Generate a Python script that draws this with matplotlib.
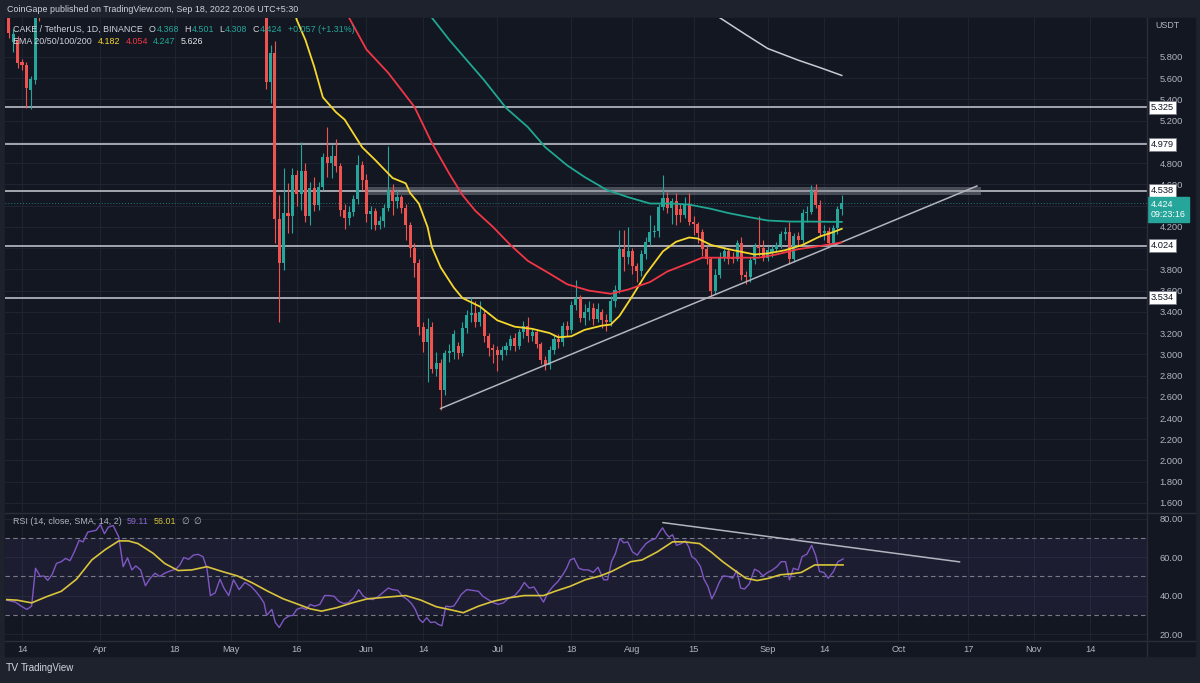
import numpy as np
import pandas as pd
import matplotlib
matplotlib.use('Agg')
import matplotlib.pyplot as plt
import matplotlib.transforms as mtransforms

plt.rcParams['font.family'] = ['Liberation Sans', 'DejaVu Sans']

BASE = pd.Timestamp('2022-03-14')

# daily candles, Mar 11 - Mar 18 (late March / April trade above the visible range)
early_start = '2022-03-11'
early_open = [6.25, 5.94, 5.96, 5.75, 5.72, 5.49, 5.58, 6.50]
early_high = [6.35, 6.06, 6.00, 5.78, 5.75, 5.62, 6.60, 6.80]
early_low = [5.98, 5.85, 5.70, 5.68, 5.32, 5.31, 5.55, 6.14]
early_close = [6.03, 6.02, 5.74, 5.72, 5.51, 5.59, 6.50, 6.25]

# daily candles, May 9 - Sep 18
main_start = '2022-05-09'
main_open = [
    6.30, 5.56, 5.84, 4.27, 3.86, 4.33, 4.30, 4.69, 4.51, 4.73, 4.30, 4.57, 4.41, 4.58, 4.86, 4.80, 4.87, 4.77, 4.36, 4.28, 4.34, 4.46, 4.78,
    4.64, 4.32, 4.35, 4.22, 4.26, 4.38, 4.55, 4.44, 4.48, 4.38, 4.22, 4.00, 3.86, 3.26, 3.12, 3.26, 2.86, 2.92, 2.66, 3.01, 3.02, 3.08, 3.01, 3.25, 3.37, 3.39, 3.30, 3.38, 3.17, 3.06,
    3.04, 2.99, 3.04, 3.08, 3.15, 3.08, 3.21, 3.27, 3.17, 3.21, 3.10, 2.95, 2.90, 3.04, 3.14, 3.12, 3.27, 3.23, 3.46, 3.53, 3.34, 3.40, 3.44, 3.33, 3.40, 3.32, 3.30, 3.50, 3.61, 3.99, 3.92,
    3.97, 3.83, 3.78, 3.94, 4.06, 4.15, 4.16, 4.39, 4.47, 4.38, 4.44, 4.37, 4.31, 4.42, 4.25, 4.23, 4.15, 3.99, 3.90, 3.60, 3.75, 3.92, 3.97, 3.92, 3.90, 4.05, 3.75, 3.73, 3.89, 4.02, 4.00,
    3.91, 3.96, 3.99, 4.03, 4.13, 4.15, 3.90, 4.11, 4.08, 4.33, 4.34, 4.54, 4.41, 4.14, 4.16, 4.05, 4.19, 4.368]
main_high = [
    6.50, 5.91, 5.95, 4.50, 4.75, 4.61, 4.75, 4.74, 5.00, 4.80, 4.62, 4.67, 4.62, 4.90, 5.14, 4.97, 5.03, 4.80, 4.42, 4.40, 4.50, 4.88, 4.82,
    4.70, 4.40, 4.38, 4.30, 4.42, 4.96, 4.60, 4.55, 4.50, 4.42, 4.25, 4.05, 3.90, 3.30, 3.34, 3.30, 3.02, 2.96, 3.04, 3.10, 3.23, 3.12, 3.30, 3.42, 3.54, 3.50, 3.50, 3.42, 3.20, 3.10,
    3.08, 3.08, 3.12, 3.18, 3.20, 3.24, 3.31, 3.35, 3.25, 3.24, 3.12, 2.98, 3.08, 3.18, 3.19, 3.30, 3.31, 3.50, 3.70, 3.56, 3.47, 3.50, 3.48, 3.48, 3.43, 3.38, 3.55, 3.65, 4.17, 4.17, 4.20,
    4.00, 3.86, 3.98, 4.10, 4.31, 4.22, 4.42, 4.69, 4.53, 4.47, 4.52, 4.42, 4.48, 4.52, 4.30, 4.25, 4.18, 4.02, 3.92, 3.80, 3.96, 4.02, 4.00, 3.96, 4.08, 4.10, 3.78, 3.92, 4.05, 4.30, 4.08,
    4.02, 4.03, 4.06, 4.16, 4.20, 4.25, 4.14, 4.15, 4.37, 4.40, 4.59, 4.60, 4.45, 4.22, 4.20, 4.22, 4.40, 4.501]
main_low = [
    5.50, 5.37, 4.05, 3.30, 3.79, 4.14, 4.14, 4.40, 4.36, 4.25, 4.22, 4.35, 4.36, 4.55, 4.67, 4.66, 4.72, 4.30, 4.18, 4.22, 4.30, 4.42, 4.55,
    4.25, 4.18, 4.17, 4.18, 4.20, 4.35, 4.31, 4.38, 4.33, 4.08, 3.92, 3.73, 3.18, 3.02, 2.74, 2.82, 2.80, 2.48, 2.62, 2.93, 2.96, 2.96, 2.98, 3.20, 3.30, 3.26, 3.27, 3.12, 2.98, 2.92,
    2.84, 2.95, 2.99, 3.04, 3.03, 3.05, 3.15, 3.12, 3.13, 3.06, 2.91, 2.85, 2.86, 3.00, 3.06, 3.08, 3.17, 3.20, 3.42, 3.30, 3.28, 3.32, 3.28, 3.30, 3.25, 3.22, 3.27, 3.45, 3.58, 3.78, 3.85,
    3.76, 3.68, 3.74, 3.90, 4.03, 4.10, 4.10, 4.36, 4.33, 4.23, 4.22, 4.25, 4.28, 4.22, 4.12, 4.05, 3.93, 3.85, 3.535, 3.57, 3.72, 3.88, 3.85, 3.86, 3.88, 3.70, 3.66, 3.68, 3.85, 3.93, 3.88,
    3.88, 3.92, 3.96, 4.00, 4.08, 3.85, 3.87, 4.03, 4.05, 4.25, 4.32, 4.38, 4.10, 4.08, 4.03, 4.03, 4.13, 4.308]
main_close = [
    5.56, 5.84, 4.27, 3.86, 4.33, 4.30, 4.69, 4.51, 4.73, 4.30, 4.57, 4.41, 4.58, 4.86, 4.80, 4.87, 4.77, 4.36, 4.28, 4.34, 4.46, 4.78, 4.64,
    4.32, 4.35, 4.22, 4.26, 4.38, 4.55, 4.44, 4.48, 4.38, 4.22, 4.00, 3.86, 3.26, 3.12, 3.24, 2.86, 2.92, 2.66, 3.01, 3.03, 3.19, 3.01, 3.25, 3.37, 3.39, 3.30, 3.40, 3.17, 3.06, 3.04,
    2.99, 3.04, 3.08, 3.14, 3.08, 3.21, 3.27, 3.17, 3.21, 3.10, 2.95, 2.90, 3.04, 3.14, 3.12, 3.27, 3.23, 3.46, 3.53, 3.34, 3.40, 3.44, 3.33, 3.43, 3.32, 3.30, 3.50, 3.61, 3.99, 3.92, 3.97,
    3.83, 3.78, 3.94, 4.06, 4.15, 4.16, 4.39, 4.47, 4.38, 4.44, 4.31, 4.31, 4.42, 4.25, 4.23, 4.14, 3.99, 3.90, 3.60, 3.75, 3.92, 3.97, 3.90, 3.90, 4.05, 3.75, 3.73, 3.89, 4.02, 4.00, 3.91,
    3.98, 3.99, 4.03, 4.13, 4.15, 3.90, 4.11, 4.08, 4.33, 4.34, 4.54, 4.41, 4.14, 4.16, 4.05, 4.19, 4.37, 4.424]

ema20_dates = ['2022-05-14', '2022-05-16', '2022-05-18', '2022-05-20', '2022-05-22', '2022-05-25', '2022-05-27',
               '2022-05-29', '2022-05-31', '2022-06-03', '2022-06-07', '2022-06-10', '2022-06-11', '2022-06-13',
               '2022-06-15', '2022-06-16', '2022-06-18', '2022-06-21', '2022-06-23', '2022-06-27', '2022-07-01',
               '2022-07-05', '2022-07-09', '2022-07-13', '2022-07-15', '2022-07-18', '2022-07-21', '2022-07-25',
               '2022-07-27', '2022-07-29', '2022-08-01', '2022-08-04', '2022-08-08', '2022-08-11', '2022-08-14',
               '2022-08-16', '2022-08-19', '2022-08-23', '2022-08-29', '2022-09-01', '2022-09-05', '2022-09-09',
               '2022-09-13', '2022-09-16', '2022-09-18']
ema20 = [6.45, 6.15, 5.96, 5.71, 5.42, 5.28, 5.21, 5.08, 4.95, 4.83, 4.66, 4.61, 4.52, 4.42, 4.20, 4.01, 3.82,
         3.63, 3.53, 3.45, 3.32, 3.26, 3.24, 3.20, 3.16, 3.17, 3.23, 3.27, 3.28, 3.36, 3.55, 3.75, 3.97, 4.06,
         4.10, 4.09, 4.03, 3.99, 3.94, 3.95, 3.98, 4.03, 4.11, 4.15, 4.182]

ema50_dates = ['2022-05-25', '2022-05-28', '2022-06-01', '2022-06-06', '2022-06-12', '2022-06-16', '2022-06-20',
               '2022-06-23', '2022-06-26', '2022-06-30', '2022-07-04', '2022-07-08', '2022-07-13', '2022-07-17',
               '2022-07-22', '2022-07-27', '2022-07-31', '2022-08-05', '2022-08-09', '2022-08-14', '2022-08-17',
               '2022-08-21', '2022-08-25', '2022-08-30', '2022-09-03', '2022-09-08', '2022-09-13', '2022-09-18']
ema50 = [6.45, 6.17, 5.87, 5.65, 5.33, 4.99, 4.70, 4.50, 4.35, 4.20, 4.03, 3.88, 3.76, 3.66, 3.60, 3.57, 3.61,
         3.68, 3.78, 3.86, 3.91, 3.91, 3.91, 3.91, 3.94, 3.99, 4.02, 4.054]

ema100_dates = ['2022-06-13', '2022-06-16', '2022-06-20', '2022-06-24', '2022-06-28', '2022-07-03', '2022-07-08',
                '2022-07-12', '2022-07-17', '2022-07-21', '2022-07-26', '2022-07-31', '2022-08-05', '2022-08-10',
                '2022-08-14', '2022-08-19', '2022-08-23', '2022-08-28', '2022-09-01', '2022-09-06', '2022-09-10',
                '2022-09-18']
ema100 = [6.40, 6.17, 5.96, 5.77, 5.58, 5.32, 5.14, 4.95, 4.78, 4.67, 4.55, 4.48, 4.42, 4.42, 4.41, 4.37, 4.33,
          4.29, 4.26, 4.25, 4.25, 4.247]

ema200_dates = ['2022-08-17', '2022-08-21', '2022-08-27', '2022-09-01', '2022-09-08', '2022-09-13', '2022-09-18']
ema200 = [6.30, 6.17, 6.01, 5.88, 5.77, 5.70, 5.626]

# RSI(14) and its SMA, positions in days after 2022-03-14
rsi_t = [-3.5, -1.5, -0.2, 1.1, 2.2, 3.1, 4.2, 5.0, 5.9, 6.9, 7.9, 9.0, 10.0, 11.0, 12.0, 13.1, 14.0, 15.1, 16.1,
         17.0, 18.0, 18.9, 19.8, 20.9, 22.2, 23.2, 24.2, 25.2, 26.1, 27.2, 28.3, 29.4, 30.5, 31.6, 32.7, 34.0, 35.3,
         36.2, 37.1, 38.2, 39.3, 40.4, 41.5, 42.4, 43.2, 44.3, 45.4, 46.3, 47.4,
         48.5, 49.8, 51.1, 52.5, 53.6, 54.6, 55.5, 56.1, 57.3, 58.1, 59.0, 60.1, 61.2, 62.1, 63.0, 64.1, 65.2, 66.1,
         67.1, 68.3, 69.4, 70.4, 71.6, 72.6, 73.7, 74.8, 76.1, 77.2, 78.3, 79.4, 80.5, 81.6, 82.7, 84.0, 84.9, 86.2,
         87.3, 88.4, 89.3, 90.2, 91.1, 91.9, 92.8, 93.7, 94.7, 95.4, 96.3, 97.2, 98.1, 99.0, 99.8, 100.7, 102.0,
         103.3, 104.7, 105.7, 106.9, 108.2, 109.2, 110.4, 111.7, 113.0, 114.2, 115.2, 116.3, 117.4, 118.5, 119.6,
         120.6, 121.8, 122.9, 124.0, 124.9, 125.7, 126.6, 127.7, 128.8, 129.9, 131.0, 132.1,
         133.4, 134.3, 135.2, 136.1, 137.1, 138.0, 138.9, 140.0, 141.1, 142.0, 143.1, 144.2, 145.3, 146.2, 146.9,
         147.7, 148.4, 149.2, 150.1, 151.2, 152.1, 152.9, 153.6, 154.5, 155.6, 156.4, 157.3, 158.2, 158.9, 160.0,
         160.8, 162.0, 163.0, 163.9, 164.8, 165.7, 166.8, 168.0, 169.0, 169.9, 171.0, 172.1, 173.1, 174.1, 175.1,
         176.0, 176.9, 178.0, 178.9, 180.0, 181.1, 182.0, 182.9, 183.9, 184.9, 186.1, 187.1, 188.3]
rsi_v = [37.7, 36.7, 34.6, 32.9, 34.6, 54.3, 50.0, 50.3, 48.0, 51.0, 56.8, 57.7, 59.4, 58.2, 62.8, 68.8, 68.0, 73.1,
         73.6, 74.0, 77.0, 72.2, 75.6, 76.5, 70.5, 55.1, 59.7, 53.4, 55.5, 53.4, 45.2, 49.1, 51.7, 50.0, 51.7, 52.9,
         53.8, 56.0, 59.9, 58.9, 61.1, 61.5, 60.3, 54.3, 40.1, 41.5, 48.6, 44.0, 40.1,
         48.3, 43.2, 46.9, 44.9, 42.3, 39.4, 36.3, 29.8, 32.9, 26.1, 23.5, 27.8, 29.5, 29.8, 32.9, 33.8, 32.9, 35.5,
         34.6, 35.5, 40.1, 40.1, 39.7, 37.2, 36.0, 36.3, 38.9, 43.2, 39.7, 38.4, 38.0, 39.4, 41.5, 44.0, 43.2, 42.8,
         39.7, 38.0, 36.0, 32.9, 27.8, 26.1, 28.6, 26.1, 26.4, 25.2, 24.4, 34.6, 34.3, 34.6, 37.2, 40.6, 43.2, 42.8,
         42.3, 39.7, 38.0, 36.3, 35.5, 36.3, 38.9, 40.1, 43.2, 46.9, 44.0, 44.5, 40.6, 36.7, 41.5, 44.9, 47.4, 50.9,
         54.3, 58.6, 59.4, 54.3, 53.4, 53.4, 52.1, 54.8,
         48.3, 48.3, 57.7, 62.0, 69.7, 67.5, 68.0, 62.8, 61.1, 64.0, 67.1, 68.8, 69.7, 73.1, 75.3, 72.2, 70.5, 71.7,
         66.2, 67.1, 68.5, 65.4, 60.3, 58.9, 55.1, 48.6, 44.9, 38.4, 41.5, 47.4, 50.3, 50.0, 49.1, 53.1, 44.0, 43.5,
         46.2, 53.8, 52.6, 50.3, 52.1, 53.4, 55.1, 57.7, 57.7, 48.3, 54.3, 53.4, 60.3, 61.6, 66.2, 61.1, 52.6, 52.1,
         49.1, 52.6, 57.7, 59.1]
sma_t = [-3.5, -1.1, 2.2, 5.5, 9.0, 12.5, 16.0, 19.1, 22.2, 24.4, 26.6, 30.1, 32.7, 35.8, 38.9, 42.4, 45.9, 49.4,
         52.9, 56.4, 59.9, 63.4, 66.1, 68.7, 72.2, 75.7, 79.2, 82.7, 88.0, 91.5, 95.0, 98.5, 101.2, 104.7, 108.2,
         111.7, 115.2, 119.6, 122.2, 125.7, 129.2, 132.6, 135.2, 139.6, 142.2, 145.7, 149.2, 151.9, 155.4, 158.0,
         160.7, 163.3, 166.0, 168.6, 171.3, 173.9, 176.6, 178.7, 181.8, 185.2, 188.3]
sma_v = [38.0, 37.7, 36.3, 39.4, 42.3, 48.6, 58.6, 64.0, 68.5, 68.5, 67.1, 62.0, 56.8, 53.1, 53.4, 55.1, 52.6, 50.3,
         46.6, 42.3, 38.4, 35.5, 33.2, 32.0, 33.8, 36.3, 38.4, 39.1, 40.1, 37.7, 34.3, 32.6, 31.2, 34.6, 37.2, 38.9,
         40.1, 40.1, 42.3, 44.9, 48.3, 50.3, 52.6, 57.7, 58.6, 62.8, 68.0, 68.0, 67.1, 62.8, 57.7, 53.4, 49.1, 47.9,
         49.1, 50.9, 51.4, 52.1, 56.0, 56.0, 56.01]

levels = [5.325, 4.979, 4.538, 4.024, 3.534]
zone_dates = ['2022-06-01', '2022-10-20']
zone_price = [4.50, 4.58]
trend_dates = ['2022-06-18', '2022-10-19']
trend_price = [2.49, 4.585]
rsi_trend_dates = ['2022-08-08', '2022-10-15']
rsi_trend_vals = [78.0, 57.6]
last_price = 4.424

tick_dates = ['2022-03-14', '2022-04-01', '2022-04-18', '2022-05-01', '2022-05-16', '2022-06-01', '2022-06-14',
              '2022-07-01', '2022-07-18', '2022-08-01', '2022-08-15', '2022-09-01', '2022-09-14', '2022-10-01',
              '2022-10-17', '2022-11-01', '2022-11-14']
tick_labels = ['14', 'Apr', '18', 'May', '16', 'Jun', '14', 'Jul', '18', 'Aug', '15', 'Sep', '14', 'Oct', '17',
               'Nov', '14']
price_ticks = [1.6, 1.8, 2.0, 2.2, 2.4, 2.6, 2.8, 3.0, 3.2, 3.4, 3.6, 3.8, 4.0, 4.2, 4.4, 4.6, 4.8, 5.0, 5.2, 5.4,
               5.6, 5.8]
hidden_ticks = [4.0, 4.4, 5.0]   # sit under the level / price boxes
rsi_ticks = [20, 40, 60, 80]

OUTER = '#1e222d'
PANE = '#131722'
GRID = '#1f2331'
TXT = '#b2b5be'
UP = '#26a69a'
DOWN = '#ef5350'
FS = 6.4


def day(d):
    return (pd.to_datetime(d) - BASE) / pd.Timedelta(days=1)


def draw_candles(ax, start, o, h, l, c):
    x = day(pd.date_range(start, periods=len(o))).values
    o, h, l, c = map(np.array, (o, h, l, c))
    col = np.where(c >= o, UP, DOWN)
    ax.vlines(x, l, h, colors=col, lw=0.8, zorder=3)
    body = np.maximum(np.abs(c - o), 0.008)
    ax.bar(x, body, bottom=np.minimum(o, c), width=0.7, color=col, lw=0, zorder=4)


W, H = 1200, 683


def box(x0, y0, x1, y1):
    return [x0 / W, 1 - y1 / H, (x1 - x0) / W, (y1 - y0) / H]


fig = plt.figure(figsize=(12, 6.83), dpi=100, facecolor=OUTER)
fig.add_artist(plt.Rectangle((5 / W, 1 - 656 / H), 1190 / W, 638 / H, transform=fig.transFigure,
                             color=PANE, zorder=0))

ax = fig.add_axes(box(5, 18, 1147, 512))
rsi = fig.add_axes(box(5, 514, 1147, 641), sharex=ax)

xt = day(tick_dates).values
for a in (ax, rsi):
    a.set_facecolor(PANE)
    for s in a.spines.values():
        s.set_visible(False)
    a.set_xticks(xt)
    a.grid(True, color=GRID, lw=0.8, zorder=0)
    a.set_axisbelow(True)
    a.yaxis.tick_right()
    a.tick_params(length=0, labelsize=FS + 0.3, labelcolor=TXT)

ax.set_xlim(-3.9, 258.0)
ax.set_ylim(1.515, 6.167)
ax.set_yticks(price_ticks)
ax.set_yticklabels(['' if t in hidden_ticks else '%.3f' % t for t in price_ticks])
ax.tick_params(axis='y', pad=9)
ax.tick_params(axis='x', labelbottom=False)

# levels and zone
for lv in levels:
    ax.axhline(lv, color='#a3a6af', lw=1.4, zorder=2)
ax.fill_between(day(zone_dates).values, zone_price[0], zone_price[1], color='#8a8d96', alpha=0.45, lw=0, zorder=2)
ax.plot(day(trend_dates).values, trend_price, color='#b2b5be', lw=1.1, zorder=5)
ax.axhline(last_price, color=UP, lw=0.7, ls=(0, (1, 2)), alpha=0.7, zorder=2)

draw_candles(ax, early_start, early_open, early_high, early_low, early_close)
draw_candles(ax, main_start, main_open, main_high, main_low, main_close)

ax.plot(day(ema20_dates).values, ema20, color='#f5d72e', lw=1.3, zorder=5)
ax.plot(day(ema50_dates).values, ema50, color='#f23645', lw=1.3, zorder=5)
ax.plot(day(ema100_dates).values, ema100, color='#1fa792', lw=1.3, zorder=5)
ax.plot(day(ema200_dates).values, ema200, color='#c9cbd2', lw=1.1, zorder=5)

trans = mtransforms.blended_transform_factory(ax.transAxes, ax.transData)
for lv in levels:
    ax.text(1.0 + 4 / 1142, lv, '%.3f' % lv, transform=trans, ha='left', va='center', fontsize=FS + 0.3,
            color='#131722', clip_on=False, zorder=10,
            bbox=dict(boxstyle='square,pad=0.22', fc='white', ec='#787b86', lw=0.6))
ax.text(1.0 + 4 / 1142, last_price + 0.03, '%.3f\n09:23:16' % last_price, transform=trans, ha='left', va='top',
        fontsize=FS, color='white', clip_on=False, zorder=10, linespacing=1.2,
        bbox=dict(boxstyle='square,pad=0.3', fc=UP, ec=UP))

# RSI pane
rsi.set_ylim(16.49, 82.47)
rsi.set_yticks(rsi_ticks)
rsi.set_yticklabels(['%.2f' % t for t in rsi_ticks])
rsi.tick_params(axis='y', pad=9)
rsi.set_xticklabels(tick_labels)
rsi.tick_params(axis='x', pad=3)
rsi.axhspan(30, 70, color='#7e57c2', alpha=0.1, lw=0, zorder=1)
for lv in (70, 50, 30):
    rsi.axhline(lv, color='#787b86', lw=0.8, ls=(0, (4, 3)), zorder=2)
rsi.plot(rsi_t, rsi_v, color='#7e57c2', lw=1.0, zorder=4)
rsi.plot(sma_t, sma_v, color='#d9c53b', lw=1.2, zorder=5)
rsi.plot(day(rsi_trend_dates).values, rsi_trend_vals, color='#b2b5be', lw=1.1, zorder=5)

# separators
fig.add_artist(plt.Line2D([5 / W, 1195 / W], [1 - 513 / H] * 2, color='#2a2e39', lw=1.0))
fig.add_artist(plt.Line2D([5 / W, 1195 / W], [1 - 641 / H] * 2, color='#2a2e39', lw=1.0))
fig.add_artist(plt.Line2D([1147 / W] * 2, [1 - 18 / H, 1 - 656 / H], color='#2a2e39', lw=1.0))

renderer = fig.canvas.get_renderer()


def row(x, y, parts, size=FS):
    # parts: (text, colour, gap after in px)
    for s, color, gap in parts:
        t = fig.text(x / W, 1 - y / H, s, color=color, fontsize=size, va='center', ha='left')
        x += t.get_window_extent(renderer).width + gap


LBL = '#d1d4dc'
row(7, 10, [('CoinGape published on TradingView.com, Sep 18, 2022 20:06 UTC+5:30', LBL, 0)])
row(13, 29, [('CAKE / TetherUS, 1D, BINANCE', LBL, 6),
             ('O', LBL, 1), ('4.368', UP, 5), ('H', LBL, 1), ('4.501', UP, 5),
             ('L', LBL, 1), ('4.308', UP, 5), ('C', LBL, 1), ('4.424', UP, 5),
             ('+0.057 (+1.31%)', UP, 0)])
row(13, 41, [('EMA 20/50/100/200', LBL, 6), ('4.182', '#f5d72e', 5), ('4.054', '#f23645', 5),
             ('4.247', '#1fa792', 5), ('5.626', '#e6e7eb', 0)])
row(13, 521, [('RSI (14, close, SMA, 14, 2)', TXT, 5), ('59.11', '#8c68d0', 5), ('56.01', '#d9c53b', 5),
              ('\u2205', TXT, 5), ('\u2205', TXT, 0)])
row(1155, 26, [('USDT', TXT, 0)])
row(6, 668, [('TV', LBL, 3)], size=7.5)
row(21, 668, [('TradingView', LBL, 0)], size=7)

fig.savefig('out.png', dpi=100, facecolor=OUTER)
